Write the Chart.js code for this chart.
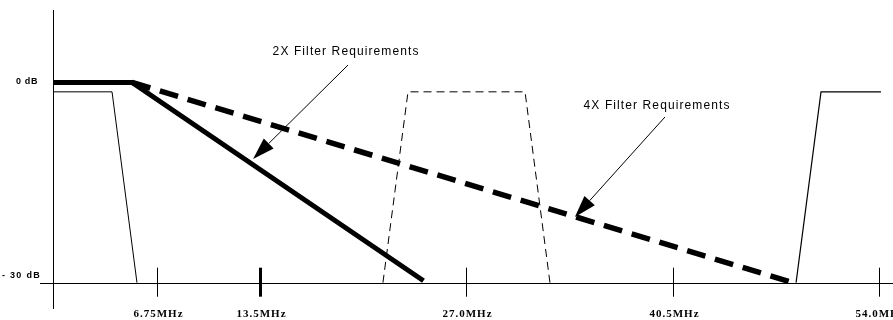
<!DOCTYPE html>
<html>
<head>
<meta charset="utf-8">
<title>Filter Requirements</title>
<script src="https://cdn.jsdelivr.net/npm/chart.js@4.4.0/dist/chart.umd.min.js"></script>
<style>
  html, body { margin: 0; padding: 0; background: #fff; }
  #wrap { width: 893px; height: 320px; position: relative; }
</style>
</head>
<body>
<div id="wrap"><canvas id="chart"></canvas></div>
<script>
// ---- data (MHz / dB) ----
const tickMHz = [6.75, 13.5, 27.0, 40.5, 54.0];
const tickLabels = ['6.75MHz', '13.5MHz', '27.0MHz', '40.5MHz', '54.0MHz'];
const dbLevels = [0, -30];
const dbLabels = ['0 dB', '- 30 dB'];

const req2xX = [0, 5.15, 24.2];
const req2xY = [0, 0, -29.7];
const req4xX = [5.15, 48.36];
const req4xY = [0, -30];

const baseX = [0, 3.84, 5.47];
const baseY = [-1.4, -1.4, -30];
const image27X = [21.55, 23.19, 30.84, 32.47];
const image27Y = [-30, -1.4, -1.4, -30];
const image54X = [48.56, 50.19, 54.11];
const image54Y = [-30, -1.4, -1.4];

// callouts, in data units
const notes = [
  { text: '2X Filter Requirements', at: [19.14, 4.6], tail: [19.27, 2.62], tip: [13.06, -11.46] },
  { text: '4X Filter Requirements', at: [39.47, -3.5], tail: [39.99, -5.17], tip: [34.1, -20.16] }
];

const pts = (xs, ys) => xs.map((x, i) => ({ x, y: ys[i] }));

function line(data, width, dash) {
  return {
    data,
    borderColor: '#000',
    borderWidth: width,
    borderDash: dash || [],
    borderCapStyle: 'butt',
    borderJoinStyle: 'miter',
    pointRadius: 0,
    tension: 0,
    fill: false
  };
}

// axes, ticks, labels and callouts
const overlay = {
  id: 'overlay',
  afterDatasetsDraw(chart) {
    const { ctx, scales: { x, y } } = chart;
    const x0 = x.getPixelForValue(0);
    const yAxis = y.getPixelForValue(-30);
    ctx.save();
    ctx.strokeStyle = '#000';
    ctx.fillStyle = '#000';

    // vertical axis
    ctx.lineWidth = 1;
    ctx.beginPath();
    ctx.moveTo(Math.round(x0) + 0.5, y.getPixelForValue(10.86));
    ctx.lineTo(Math.round(x0) + 0.5, y.getPixelForValue(-33.94));
    ctx.stroke();

    // horizontal axis at -30 dB
    ctx.beginPath();
    ctx.moveTo(x.getPixelForValue(-0.87), Math.round(yAxis) + 0.5);
    ctx.lineTo(chart.width, Math.round(yAxis) + 0.5);
    ctx.stroke();

    // frequency ticks
    ctx.font = 'bold 11px "Liberation Serif", "Times New Roman", serif';
    ctx.letterSpacing = '1px';
    ctx.textAlign = 'center';
    ctx.textBaseline = 'middle';
    tickMHz.forEach((f, i) => {
      const px = Math.round(x.getPixelForValue(f)) + 0.5;
      ctx.lineWidth = f === 13.5 ? 3 : 1;
      ctx.beginPath();
      ctx.moveTo(px, yAxis - 15);
      ctx.lineTo(px, yAxis + 14);
      ctx.stroke();
      ctx.fillText(tickLabels[i], px + 1, yAxis + 31);
    });

    // dB labels
    ctx.font = 'bold 9px "Liberation Sans", Arial, sans-serif';
    ctx.textAlign = 'right';
    ctx.letterSpacing = '0.6px';
    ctx.fillText(dbLabels[0], 38, y.getPixelForValue(dbLevels[0]) - 1);
    ctx.letterSpacing = '1.3px';
    ctx.fillText(dbLabels[1], 41, y.getPixelForValue(dbLevels[1]) - 7);

    // callouts with arrows
    ctx.font = '12px "Liberation Sans", Arial, sans-serif';
    ctx.letterSpacing = '1.1px';
    ctx.textAlign = 'center';
    notes.forEach(n => {
      ctx.fillText(n.text, x.getPixelForValue(n.at[0]), y.getPixelForValue(n.at[1]));
      const tx = x.getPixelForValue(n.tail[0]), ty = y.getPixelForValue(n.tail[1]);
      const hx = x.getPixelForValue(n.tip[0]), hy = y.getPixelForValue(n.tip[1]);
      const ang = Math.atan2(hy - ty, hx - tx);
      const len = 22, half = 7;
      const bx = hx - len * Math.cos(ang), by = hy - len * Math.sin(ang);
      ctx.lineWidth = 1;
      ctx.beginPath();
      ctx.moveTo(tx, ty);
      ctx.lineTo(bx, by);
      ctx.stroke();
      ctx.beginPath();
      ctx.moveTo(hx, hy);
      ctx.lineTo(bx + half * Math.sin(ang), by - half * Math.cos(ang));
      ctx.lineTo(bx - half * Math.sin(ang), by + half * Math.cos(ang));
      ctx.closePath();
      ctx.fill();
    });
    ctx.restore();
  }
};

new Chart(document.getElementById('chart'), {
  type: 'line',
  data: {
    datasets: [
      line(pts(baseX, baseY), 1),
      line(pts(image27X, image27Y), 1, [8, 5]),
      line(pts(image54X, image54Y), 1.2),
      line(pts(req4xX, req4xY), 5.5, [19, 10]),
      line(pts(req2xX, req2xY), 5)
    ]
  },
  options: {
    responsive: true,
    maintainAspectRatio: false,
    animation: false,
    layout: { padding: 0 },
    plugins: { legend: { display: false }, tooltip: { enabled: false } },
    scales: {
      x: { type: 'linear', min: -3.485, max: 54.897, display: false },
      y: { type: 'linear', min: -35.59, max: 12.36, display: false }
    }
  },
  plugins: [overlay]
});
</script>
</body>
</html>
